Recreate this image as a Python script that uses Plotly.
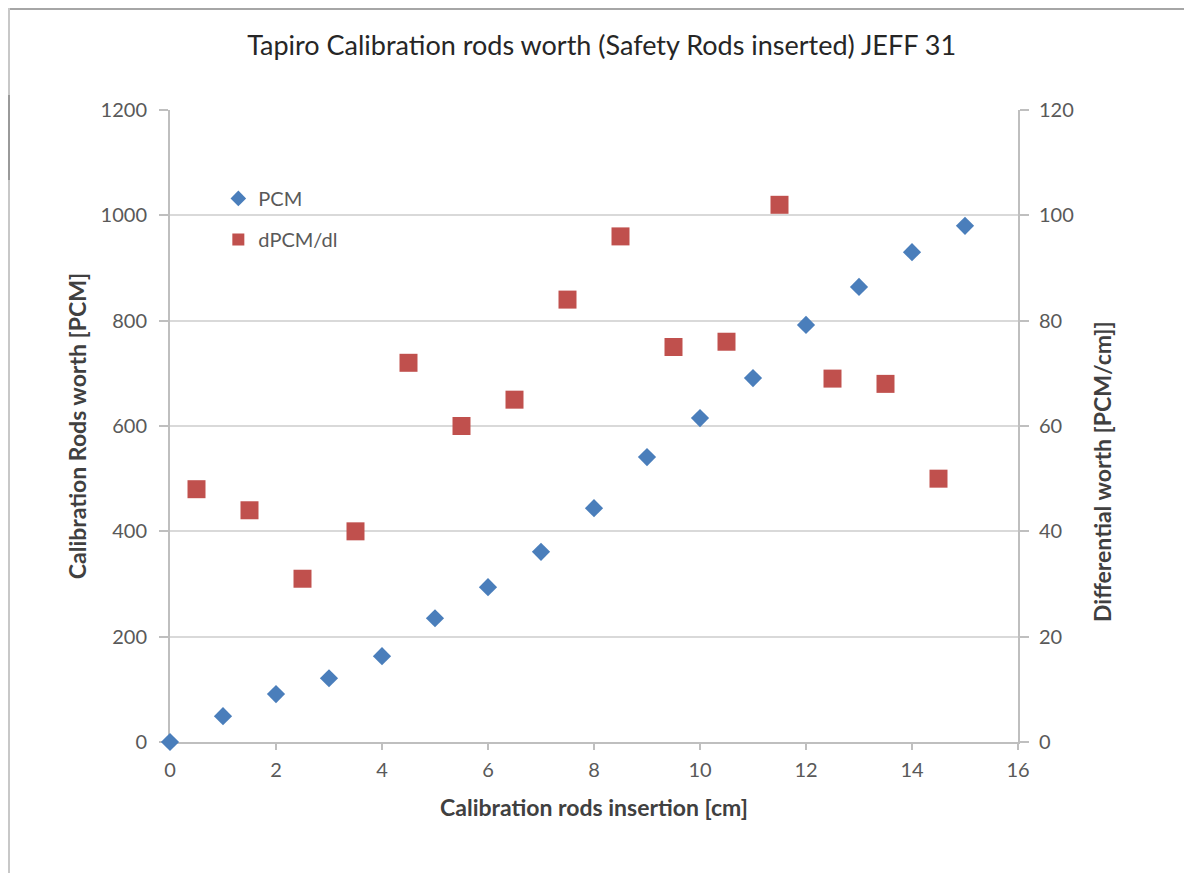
import plotly.graph_objects as go

x_pcm = [0, 1, 2, 3, 4, 5, 6, 7, 8, 9, 10, 11, 12, 13, 14, 15]
pcm = [0, 49, 91, 121, 163, 235, 294, 361, 444, 541, 615, 691, 792, 864, 930, 980]

x_d = [0.5, 1.5, 2.5, 3.5, 4.5, 5.5, 6.5, 7.5, 8.5, 9.5, 10.5, 11.5, 12.5, 13.5, 14.5]
dpcm = [48, 44, 31, 40, 72, 60, 65, 84, 96, 75, 76, 102, 69, 68, 50]

FONT = "Lato"
TICK = dict(family=FONT, size=20, color="#595959")
TITLE = dict(family=FONT, size=23, color="#404040")

L, R, T, B = 162, 182, 102, 139
W, H = 1192, 873
PW, PH = W - L - R, H - T - B

fig = go.Figure()
fig.add_trace(go.Scatter(x=x_pcm, y=pcm, mode="markers", name="PCM", legendgroup="a",
                         cliponaxis=False,
                         marker=dict(symbol="diamond", size=14, color="#4A7EBB")))
fig.add_trace(go.Scatter(x=x_d, y=dpcm, mode="markers", name="dPCM/dl", yaxis="y2",
                         legendgroup="b", cliponaxis=False,
                         marker=dict(symbol="square", size=18, color="#C0504D")))

def px_x(fx):
    return (fx - L) / PW

def px_y(fy):
    return 1 - (fy - T) / PH

shapes = [
    dict(type="line", xref="paper", yref="paper", x0=px_x(0), x1=px_x(W),
         y0=px_y(1), y1=px_y(1), line=dict(color="#A6A6A6", width=2)),
    dict(type="line", xref="paper", yref="paper", x0=px_x(1), x1=px_x(1),
         y0=px_y(0), y1=px_y(H), line=dict(color="#C8C8C8", width=2)),
    dict(type="line", xref="paper", yref="paper", x0=px_x(1), x1=px_x(1),
         y0=px_y(87), y1=px_y(172), line=dict(color="#9A9A9A", width=2)),
]

annotations = [
    dict(text="<b>Differential worth [PCM/cm]]</b>", xref="paper", yref="paper",
         x=px_x(1094), y=px_y(464), xanchor="center", yanchor="middle",
         textangle=-90, showarrow=False, font=TITLE),
]

fig.update_layout(
    width=W, height=H,
    paper_bgcolor="white", plot_bgcolor="white",
    margin=dict(l=L, r=R, t=T, b=B),
    shapes=shapes,
    annotations=annotations,
    title=dict(text="Tapiro Calibration rods worth (Safety Rods inserted) JEFF 31",
               x=0.498, xanchor="center", y=0.957, yanchor="middle",
               font=dict(family=FONT, size=27, color="#262626")),
    xaxis=dict(range=[0, 16], dtick=2, showgrid=False, showline=True,
               linecolor="#BFBFBF", linewidth=2, ticks="outside", ticklen=6,
               tickcolor="#BFBFBF", tickwidth=2, tickfont=TICK, zeroline=False,
               ticklabelstandoff=3, layer="below traces",
               title=dict(text="<b>Calibration rods insertion [cm]</b>", font=TITLE, standoff=20)),
    yaxis=dict(range=[0, 1200], dtick=200, showgrid=True, gridcolor="#D9D9D9",
               gridwidth=2, showline=True, linecolor="#BFBFBF", linewidth=2,
               ticks="outside", ticklen=9, tickcolor="#BFBFBF", tickwidth=2, tickfont=TICK,
               zeroline=False, ticklabelstandoff=8, layer="below traces",
               title=dict(text="<b>Calibration Rods worth [PCM]</b>", font=TITLE, standoff=8)),
    yaxis2=dict(range=[0, 120], dtick=20, overlaying="y", side="right",
                showgrid=False, showline=True, linecolor="#BFBFBF", linewidth=2,
                ticks="outside", ticklen=9, tickcolor="#BFBFBF", tickwidth=2, tickfont=TICK,
                zeroline=False, ticklabelstandoff=6, layer="below traces"),
    legend=dict(x=0.057, y=0.891, xanchor="left", yanchor="top",
                bgcolor="rgba(0,0,0,0)", font=dict(family=FONT, size=20, color="#595959"),
                traceorder="grouped", tracegroupgap=12, itemsizing="constant",
                itemwidth=30),
    showlegend=True,
)

fig.write_html("out.html")
